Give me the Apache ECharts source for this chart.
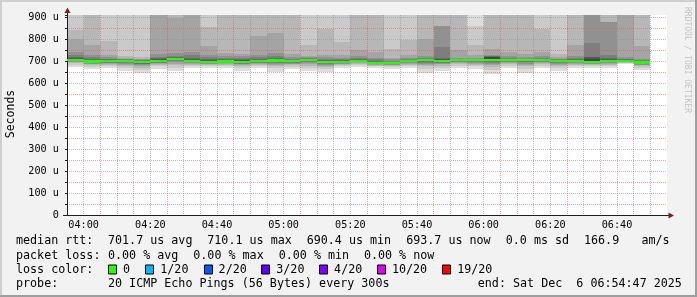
<!DOCTYPE html>
<html><head><meta charset="utf-8">
<script src="https://cdn.jsdelivr.net/npm/echarts@6/dist/echarts.min.js"></script>
<style>html,body{margin:0;padding:0;background:#f2f2f2;}#c{width:697px;height:297px;}</style>
</head><body><div id="c"></div>
<script>
// ---- data ----
const binTimes = ['03:55','04:00','04:05','04:10','04:15','04:20','04:25','04:30','04:35','04:40','04:45','04:50',
  '04:55','05:00','05:05','05:10','05:15','05:20','05:25','05:30','05:35','05:40','05:45','05:50',
  '05:55','06:00','06:05','06:10','06:15','06:20','06:25','06:30','06:35','06:40','06:45'];
const binMinutes = 5;
const medianRtt = [706,698,699,699,695,700,710.1,700,697,698,696,699,703,699,706,697,697,701,693,690.4,
  700,704,702,704,704,705,704,705,704,699,700,697,700,701,693.7];
// lower 10 pings (sorted ascending, p1..p10), microseconds
const pingsLow = [
  [675,684,690,694,697,700,702,703,704,705],
  [665,675,681,685,689,691,694,696,697,698],
  [668,677,683,687,690,693,695,697,698,699],
  [657,670,678,683,687,691,694,696,697,698],
  [645,660,670,676,681,685,688,691,693,694],
  [665,676,682,687,690,693,695,697,698,699],
  [653,670,681,688,694,699,703,705,707,709],
  [668,678,684,688,691,694,696,697,698,699],
  [668,677,682,686,689,691,693,695,696,697],
  [668,677,683,687,690,692,694,696,697,698],
  [657,669,676,681,685,688,691,693,695,696],
  [668,677,683,687,690,693,695,697,698,699],
  [651,667,677,683,688,693,696,699,701,702],
  [665,675,682,686,689,692,695,696,698,699],
  [653,669,680,686,691,695,699,702,704,705],
  [650,664,674,679,684,688,691,693,695,696],
  [668,677,682,686,689,691,693,695,696,697],
  [675,683,688,691,694,696,698,699,700,701],
  [668,676,680,684,686,688,690,691,692,693],
  [665,673,677,681,683,685,687,688,689,690],
  [668,678,684,688,691,694,696,697,698,699],
  [648,665,676,683,688,693,697,700,702,703],
  [657,671,680,685,689,693,696,698,700,701],
  [668,679,686,690,694,697,699,701,702,703],
  [665,677,684,689,693,696,699,701,702,703],
  [642,661,673,681,687,692,697,700,703,704],
  [668,679,686,690,694,697,699,701,702,703],
  [648,665,676,683,689,694,698,700,703,704],
  [670,680,687,691,694,697,700,701,702,703],
  [657,670,678,683,687,691,694,696,697,698],
  [668,678,684,688,691,694,696,697,698,699],
  [668,677,682,686,689,691,693,695,696,697],
  [668,678,684,688,691,694,696,697,698,699],
  [685,690,693,695,697,698,699,700,700,701],
  [660,670,677,681,684,687,690,691,692,693]
];
// upper 10 pings (sorted ascending, p11..p20), microseconds
const pingsHigh = [
  [708,711,714,719,726,742,803,840,930,960],
  [700,702,706,712,720,730,775,925,950,980],
  [700,702,705,708,712,718,730,790,925,950],
  [700,701,703,705,708,712,716,725,930,950],
  [696,697,699,701,704,708,712,718,920,940],
  [701,704,708,713,720,732,920,940,960,990],
  [711,713,715,719,725,735,895,925,950,980],
  [702,705,710,716,727,740,920,940,960,990],
  [699,701,705,710,718,728,770,855,925,950],
  [699,701,705,710,716,725,737,920,940,970],
  [697,699,703,708,714,722,733,920,940,970],
  [700,702,705,710,717,727,815,920,940,970],
  [704,706,709,714,722,735,830,920,940,970],
  [700,701,704,707,712,720,733,920,940,970],
  [707,708,709,711,714,718,725,775,925,950],
  [698,699,702,705,710,718,730,848,925,950],
  [698,699,702,705,709,716,728,788,925,950],
  [702,703,706,710,716,725,750,920,940,970],
  [694,696,698,702,708,715,742,920,940,970],
  [691,692,695,698,702,708,716,755,925,950],
  [700,701,703,706,710,716,728,795,925,950],
  [704,705,707,710,715,725,800,920,940,970],
  [703,706,710,716,765,860,862,925,950,980],
  [704,705,706,708,711,716,750,920,940,970],
  [705,706,707,709,712,716,728,772,861,930],
  [710,719,721,722,724,728,754,920,940,970],
  [705,706,707,710,714,722,742,920,940,970],
  [705,706,707,709,712,718,732,920,940,970],
  [705,706,707,710,714,722,742,848,925,950],
  [700,701,703,705,708,712,718,732,925,950],
  [701,702,705,709,714,722,773,920,940,970],
  [700,710,718,720,784,920,940,960,980,1000],
  [702,705,710,716,728,878,880,925,950,980],
  [702,703,705,708,712,717,920,940,960,990],
  [695,696,698,701,705,712,771,920,940,970]
];
const xTickLabels = ['04:00','04:20','04:40','05:00','05:20','05:40','06:00','06:20','06:40'];
const xRange = ['03:55','06:55'];
const yMax = 910;
const smokeShades = ['#dddddd','#cacaca','#b7b7b7','#a4a4a4','#919191','#7e7e7e','#6b6b6b','#585858','#454545','#323232'];
const medianColor = '#26ff00';
const lossLabels = ['0','1/20','2/20','3/20','4/20','10/20','19/20'];
const lossColors = ['#26ff00','#00b8ff','#0059ff','#5e00ff','#7e00ff','#dd00ff','#ff0000'];
const rttStats = ['701.7 us avg','710.1 us max','690.4 us min','693.7 us now','0.0 ms sd','166.9','am/s'];
const lossStats = ['0.00 % avg','0.00 % max','0.00 % min','0.00 % now'];
const probeText = '20 ICMP Echo Pings (56 Bytes) every 300s';
const endText = 'end: Sat Dec  6 06:54:47 2025';

// ---- helpers ----
const toMin = s => { const [h, m] = s.split(':').map(Number); return h * 60 + m; };
const labelOf = {};
xTickLabels.forEach(l => { labelOf[toMin(l)] = l; });

const smokeData = [];
binTimes.forEach((t, i) => {
  const x0 = toMin(t), x1 = x0 + binMinutes;
  for (let k = 0; k < 10; k++) {
    smokeData.push({ value: [x0, x1, pingsLow[i][k], pingsHigh[i][9 - k]], itemStyle: { color: smokeShades[k] } });
  }
});
const swidth = yMax / 200 * 1.1;
const medData = binTimes.map((t, i) => ({ value: [toMin(t), toMin(t) + binMinutes, medianRtt[i] - swidth, medianRtt[i] + swidth], itemStyle: { color: medianColor } }));

function renderRect(params, api) {
  const a = api.coord([api.value(0), api.value(3)]);
  const b = api.coord([api.value(1), api.value(2)]);
  const cs = params.coordSys;
  const r = echarts.graphic.clipRectByRect(
    { x: Math.round(a[0]), y: Math.round(a[1]), width: Math.round(b[0]) - Math.round(a[0]), height: Math.round(b[1]) - Math.round(a[1]) },
    { x: cs.x, y: cs.y, width: cs.width, height: cs.height });
  if (!r) return null;
  return { type: 'rect', shape: r, style: { fill: api.visual('color') } };
}

const FONT = 'DejaVu Sans Mono';
const LFONT = '11.7px "' + FONT + '"';
const minorGrid = 'rgba(143,143,143,0.55)';
const majorGrid = 'rgba(222,79,79,0.5)';
const G = { left: 67, top: 15, width: 600, height: 200 };

const graphics = [];
const txt = (x, y, s) => graphics.push({ type: 'text', x: x, y: y, silent: true,
  style: { text: s, font: LFONT, fill: '#000', textVerticalAlign: 'middle', textAlign: 'left' } });
// frame
graphics.push({ type: 'rect', shape: { x: 0, y: 0, width: 697, height: 2 }, style: { fill: '#cfcfcf' }, silent: true, z: 10 });
graphics.push({ type: 'rect', shape: { x: 0, y: 0, width: 2, height: 297 }, style: { fill: '#cfcfcf' }, silent: true, z: 10 });
graphics.push({ type: 'rect', shape: { x: 0, y: 295, width: 697, height: 2 }, style: { fill: '#9e9e9e' }, silent: true, z: 10 });
graphics.push({ type: 'rect', shape: { x: 695, y: 0, width: 2, height: 297 }, style: { fill: '#9e9e9e' }, silent: true, z: 10 });
// axis arrows
const xr = G.left + G.width, yb = G.top + G.height;
graphics.push({ type: 'line', shape: { x1: G.left + 0.5, y1: G.top, x2: G.left + 0.5, y2: G.top - 3 }, style: { stroke: '#1f1f1f', lineWidth: 1 }, silent: true, z: 10 });
graphics.push({ type: 'line', shape: { x1: G.left - 4, y1: yb + 0.5, x2: G.left, y2: yb + 0.5 }, style: { stroke: '#1f1f1f', lineWidth: 1 }, silent: true, z: 10 });
graphics.push({ type: 'line', shape: { x1: xr, y1: yb + 0.5, x2: xr + 2, y2: yb + 0.5 }, style: { stroke: '#1f1f1f', lineWidth: 1 }, silent: true, z: 10 });
graphics.push({ type: 'polygon', shape: { points: [[G.left - 2.5, G.top - 2], [G.left + 3.5, G.top - 2], [G.left + 0.5, G.top - 7.5]] }, style: { fill: '#801f1f' }, silent: true, z: 10 });
graphics.push({ type: 'polygon', shape: { points: [[xr + 1.5, yb - 2.5], [xr + 1.5, yb + 3.5], [xr + 7, yb + 0.5]] }, style: { fill: '#801f1f' }, silent: true, z: 10 });
// y unit & watermark
graphics.push({ type: 'text', x: 11, y: 114, rotation: Math.PI / 2, silent: true,
  style: { text: 'Seconds', font: '11.5px "' + FONT + '"', fill: '#000', textAlign: 'center', textVerticalAlign: 'middle' } });
graphics.push({ type: 'text', x: 687.5, y: 60, rotation: -Math.PI / 2, silent: true,
  style: { text: 'RRDTOOL / TOBI OETIKER', font: '8px "' + FONT + '"', fill: '#c4c4c4', textAlign: 'center', textVerticalAlign: 'middle' } });
// legend
const rowY = [241, 255.5, 269.5, 284];
txt(16, rowY[0], 'median rtt:');
[108, 207.3, 306.7, 406.2, 505.8, 584, 641.5].forEach((x, i) => txt(x, rowY[0], rttStats[i]));
txt(16, rowY[1], 'packet loss:');
[108, 193.3, 278.7, 363.9].forEach((x, i) => txt(x, rowY[1], lossStats[i]));
txt(16, rowY[2], 'loss color:');
[108, 145.3, 203.6, 261.3, 319.1, 376.9, 442.2].forEach((x, i) => {
  graphics.push({ type: 'rect', shape: { x: Math.round(x) + 0.5, y: rowY[2] - 4.5, width: 8, height: 9 }, style: { fill: lossColors[i], stroke: '#000', lineWidth: 1 }, silent: true });
  txt(x + 15, rowY[2], lossLabels[i]);
});
txt(16, rowY[3], 'probe:');
txt(108, rowY[3], probeText);
txt(477.8, rowY[3], endText);

const chart = echarts.init(document.getElementById('c'), null, { renderer: 'canvas' });
chart.setOption({
  animation: false,
  backgroundColor: '#f2f2f2',
  grid: { left: G.left, top: G.top, width: G.width, height: G.height, show: true, backgroundColor: '#ffffff', borderWidth: 0 },
  xAxis: {
    type: 'value', min: toMin(xRange[0]), max: toMin(xRange[1]), interval: binMinutes, z: 2,
    axisLine: { show: true, onZero: false, lineStyle: { color: '#1f1f1f', width: 1 } },
    axisTick: { show: false },
    axisLabel: { show: true, margin: 5, color: '#000', fontFamily: FONT, fontSize: 10.2, showMinLabel: true, showMaxLabel: true,
      formatter: v => labelOf[v] || '' },
    splitLine: { show: true, showMinLine: false, showMaxLine: false, lineStyle: { color: [minorGrid, majorGrid, minorGrid, minorGrid], type: [1, 1], width: 1 } }
  },
  yAxis: {
    type: 'value', min: 0, max: yMax, interval: 50, z: 2,
    axisLine: { show: true, lineStyle: { color: '#1f1f1f', width: 1 } },
    axisTick: { show: true, length: 2, lineStyle: { color: '#1f1f1f' } },
    axisLabel: { show: true, margin: 8, color: '#000', fontFamily: FONT, fontSize: 10.2,
      formatter: v => (v % 100 === 0 ? (v === 0 ? '0' : v + ' u') : '') },
    splitLine: { show: true, showMinLine: false, showMaxLine: false, lineStyle: { color: [majorGrid, minorGrid], type: [1, 1], width: 1 } }
  },
  series: [
    { type: 'custom', name: 'smoke', z: 1, renderItem: renderRect, encode: { x: [0, 1], y: [2, 3] }, data: smokeData, silent: true },
    { type: 'custom', name: 'median', z: 3, renderItem: renderRect, encode: { x: [0, 1], y: [2, 3] }, data: medData, silent: true }
  ],
  graphic: graphics
});
</script>
</body></html>
